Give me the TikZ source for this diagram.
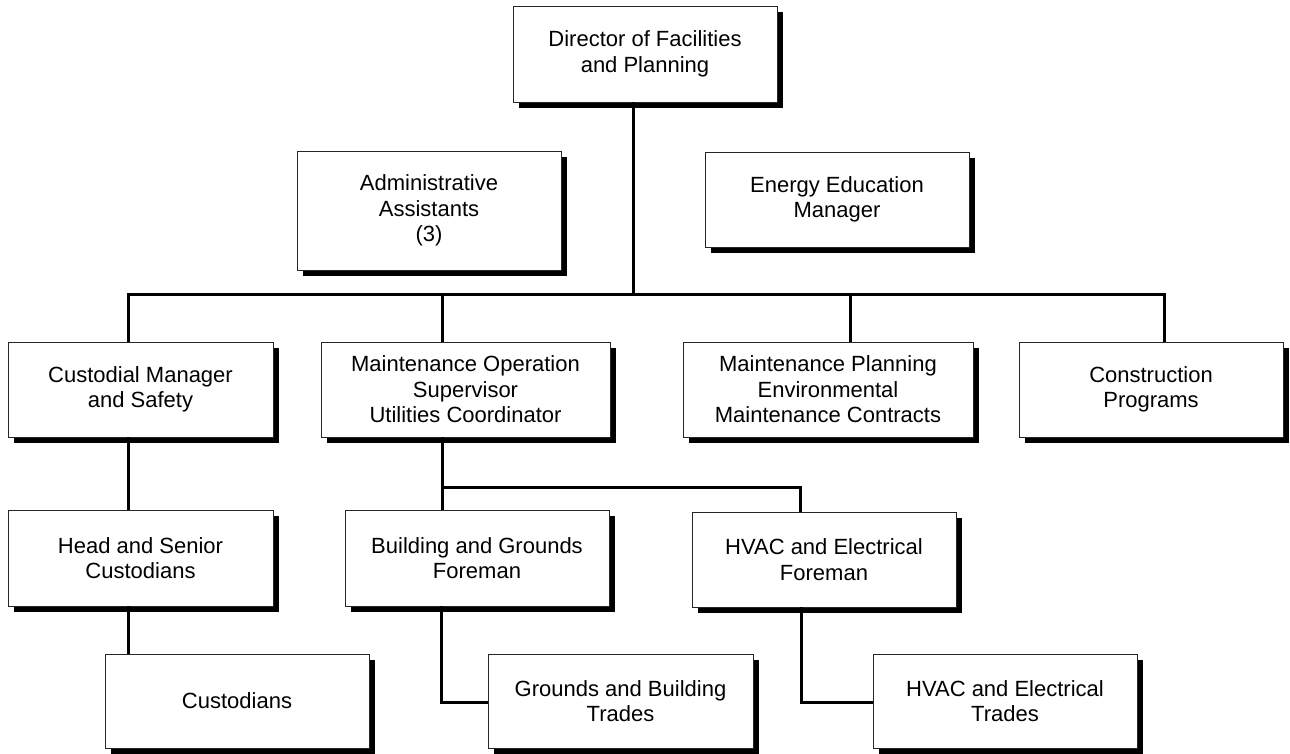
\documentclass[tikz,border=0pt]{standalone}
\usepackage{fontspec}
\setmainfont{Liberation Sans}
\usetikzlibrary{shadows}
\begin{document}
\begin{tikzpicture}[x=1pt,y=-1pt,
  orgbox/.style={draw=black!85, line width=1pt, fill=white, inner sep=0pt, outer sep=0pt,
    align=center, font=\fontsize{22}{25.5}\selectfont,
    drop shadow={shadow xshift=6pt, shadow yshift=-6pt, fill=black, opacity=1}},
  conn/.style={line width=3pt, line join=miter}]
\useasboundingbox (0,0) rectangle (1290,753);

% top level and staff positions
\node[orgbox, minimum width=264pt, minimum height=96pt] (dir) at (645,54) {Director of Facilities\\and Planning};
\node[orgbox, minimum width=264pt, minimum height=119pt] (adm) at (429,210.5) {Administrative\\Assistants\\(3)};
\node[orgbox, minimum width=264pt, minimum height=95pt] (ene) at (837,199.5) {Energy Education\\Manager};

% department heads
\node[orgbox, minimum width=265pt, minimum height=95pt] (cust) at (140.5,389.5) {Custodial Manager\\and Safety};
\node[orgbox, minimum width=289pt, minimum height=95pt] (mop) at (465.5,389.5) {Maintenance Operation\\Supervisor\\Utilities Coordinator};
\node[orgbox, minimum width=290pt, minimum height=95pt] (mpl) at (828,389.5) {Maintenance Planning\\Environmental\\Maintenance Contracts};
\node[orgbox, minimum width=264pt, minimum height=95pt] (cons) at (1151,389.5) {Construction\\Programs};

% foremen
\node[orgbox, minimum width=265pt, minimum height=96pt] (head) at (140.5,558) {Head and Senior\\Custodians};
\node[orgbox, minimum width=264pt, minimum height=96pt] (bld) at (477,558) {Building and Grounds\\Foreman};
\node[orgbox, minimum width=264pt, minimum height=95pt] (hvf) at (824,559.5) {HVAC and Electrical\\Foreman};

% staff
\node[orgbox, minimum width=264pt, minimum height=94pt] (custs) at (237,701) {Custodians};
\node[orgbox, minimum width=265pt, minimum height=94pt] (grd) at (620.5,701) {Grounds and Building\\Trades};
\node[orgbox, minimum width=264pt, minimum height=94pt] (hvt) at (1005,701) {HVAC and Electrical\\Trades};

% bus coordinates
\coordinate (bus) at (633,294);
\coordinate (b1) at (128,294);
\coordinate (b2) at (442,294);
\coordinate (b3) at (850,294);
\coordinate (b4) at (1164,294);
\coordinate (m1) at (442,487);
\coordinate (m2) at (800,487);
\coordinate (g1) at (441,702);
\coordinate (g2) at (801,702);

% connectors
\draw[conn] (dir.south -| bus) -- (bus);
\draw[conn] (cust.north -| b1) -- (b1) -- (b4) -- (cons.north -| b4);
\draw[conn] (b2) -- (mop.north -| b2);
\draw[conn] (b3) -- (mpl.north -| b3);
\draw[conn] (cust.south -| b1) -- (head.north -| b1);
\draw[conn] (head.south -| b1) -- (custs.north -| b1);
\draw[conn] (mop.south -| m1) -- (bld.north -| m1);
\draw[conn] (m1) -- (m2) -- (hvf.north -| m2);
\draw[conn] (bld.south -| g1) -- (g1) -- (grd.west |- g1);
\draw[conn] (hvf.south -| g2) -- (g2) -- (hvt.west |- g2);
\end{tikzpicture}
\end{document}
